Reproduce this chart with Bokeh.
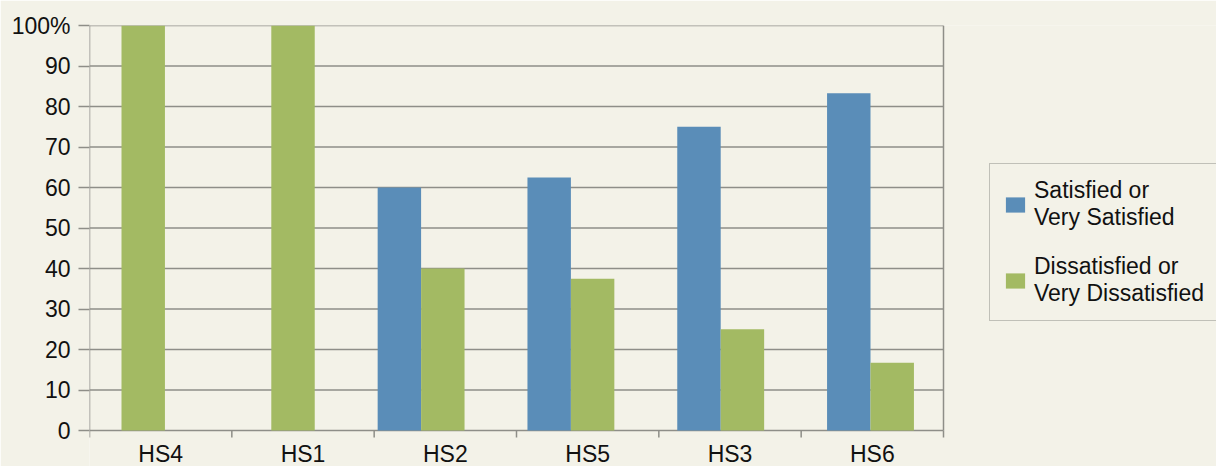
from bokeh.plotting import figure
from bokeh.models import (Range1d, LinearAxis, FixedTicker, Legend, LegendItem,
                          ColumnDataSource)
from bokeh.core.properties import value
from bokeh.embed import file_html
from bokeh.resources import INLINE

categories = ["HS4", "HS1", "HS2", "HS5", "HS3", "HS6"]
satisfied = [0, 0, 60, 62.5, 75, 83.3]
dissatisfied = [100, 100, 40, 37.5, 25, 16.7]
y_ticks = [0, 10, 20, 30, 40, 50, 60, 70, 80, 90, 100]
series_labels = ["Satisfied or\nVery Satisfied", "Dissatisfied or\nVery Dissatisfied"]

BG = "#f3f2e8"
BLUE = "#5a8db8"
GREEN = "#a3ba63"
GRID = "#8e8e88"
TEXT = "#111111"
FONT = "Liberation Sans"

W, H = 1216, 466
LEFT, TOP, PLOT_RIGHT, PLOT_BOTTOM = 89, 25, 943, 430   # chart area layout (px)
n = len(categories)
idx = list(range(n))
centers = [i + 0.5 for i in idx]
src = ColumnDataSource(dict(
    x_sat=[c - 0.145 for c in centers],
    x_dis=[c + 0.145 for c in centers],
    sat=satisfied,
    dis=dissatisfied,
))

# The frame spans to the right and bottom edges so the legend and category
# labels can sit outside the chart area; the chart occupies x 0..n, y 0..100.
frame_w = W - LEFT
x_end = n * frame_w / (PLOT_RIGHT - LEFT)
px_per_y = (PLOT_BOTTOM - TOP) / 100.0
y_start = -(H - PLOT_BOTTOM) / px_per_y

p = figure(width=W, height=H, output_backend="svg", toolbar_location=None,
           x_range=Range1d(0, x_end), y_range=Range1d(y_start, 100),
           x_axis_type=None, y_axis_type=None,
           min_border_left=LEFT, min_border_right=0, min_border_top=TOP,
           min_border_bottom=0,
           background_fill_color=BG, border_fill_color=BG,
           outline_line_color=None)

# bars are laid out on their own slightly wider spacing, as in the original
bar_px = 149.8
bar_start = 0.5 - (121 - LEFT) / bar_px
p.extra_x_ranges = {"bars": Range1d(bar_start, bar_start + frame_w / bar_px)}

# Y axis (ticks + labels; the axis line itself is drawn below as a segment)
yax = LinearAxis(ticker=FixedTicker(ticks=y_ticks))
yax.major_label_overrides = {100: "100%"}
yax.major_tick_out = 11
yax.major_tick_in = 0
yax.minor_tick_out = 0
yax.minor_tick_in = 0
yax.major_tick_line_color = GRID
yax.major_tick_line_width = 1.5
yax.axis_line_color = None
yax.major_label_standoff = 8
yax.major_label_text_font = FONT
yax.major_label_text_font_size = "23px"
yax.major_label_text_color = TEXT
p.add_layout(yax, "left")

p.xgrid.grid_line_color = None
p.ygrid.grid_line_color = None

# gridlines (incl. the baseline), left axis line and right border
p.segment(x0=[0] * len(y_ticks), x1=[n] * len(y_ticks), y0=y_ticks, y1=y_ticks,
          line_color=GRID, line_width=1.5)
p.segment(x0=[0, n], x1=[0, n], y0=[0, 0], y1=[100, 100],
          line_color=GRID, line_width=1.5)

# category boundary ticks below the baseline
bounds = list(range(n + 1))
tick_len = 7 / px_per_y
p.segment(x0=bounds, x1=bounds, y0=[0] * len(bounds), y1=[-tick_len] * len(bounds),
          line_color=GRID, line_width=1.5)

# category labels
p.text(x=centers, y=[0] * n, text=categories, y_offset=10,
       text_align="center", text_baseline="top",
       text_font=value(FONT), text_font_size="23px", text_color=TEXT)

r1 = p.vbar(x="x_sat", top="sat", width=0.29, source=src, x_range_name="bars",
            fill_color=BLUE, line_color=None)
r2 = p.vbar(x="x_dis", top="dis", width=0.29, source=src, x_range_name="bars",
            fill_color=GREEN, line_color=None)

legend = Legend(items=[LegendItem(label=series_labels[0], renderers=[r1]),
                       LegendItem(label=series_labels[1], renderers=[r2])],
                location=(900, 145))
legend.label_text_font = FONT
legend.label_text_font_size = "23px"
legend.label_text_color = TEXT
legend.glyph_width = 24
legend.glyph_height = 19
legend.label_standoff = 7
legend.padding = 13
legend.spacing = 22
legend.margin = 0
legend.background_fill_color = BG
legend.background_fill_alpha = 1
legend.border_line_color = GRID
legend.border_line_width = 1.5
p.add_layout(legend, "center")

open("out.html", "w").write(file_html(p, INLINE))
